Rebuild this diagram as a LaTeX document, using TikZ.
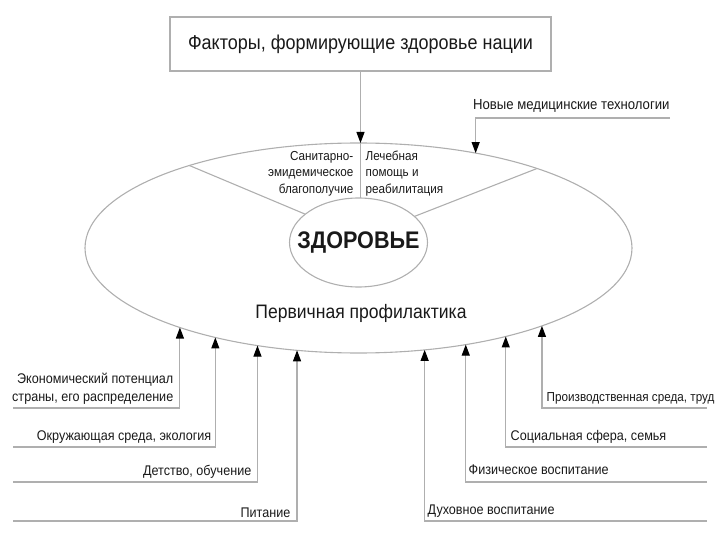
\documentclass[tikz,border=0pt]{standalone}
\usepackage{fontspec}
\setmainfont{Liberation Sans}[FakeStretch=0.9]
\usetikzlibrary{arrows.meta,shapes.geometric}
\definecolor{ln}{RGB}{175,175,175}
\definecolor{tx}{RGB}{25,25,25}
\tikzset{
  conn/.style={draw=ln, line width=1.1pt, -{Triangle[length=11pt,width=8pt,color=black]}},
  plain/.style={draw=ln, line width=1.1pt},
  small/.style={font=\fontsize{13}{16.5}\selectfont, inner sep=1.5pt, text=tx},
  lab/.style={font=\fontsize{14}{17.5}\selectfont, inner sep=1.5pt, text=tx},
  oval/.style={ellipse, draw=ln, line width=1.1pt, inner sep=0pt, outer sep=0pt},
}
\begin{document}
\begin{tikzpicture}[x=1pt,y=-1pt]
\useasboundingbox (0,0) rectangle (720,540);
% title
\node[draw=ln, line width=1.1pt, minimum width=381pt, minimum height=54pt, inner sep=0pt,
      text=tx, font=\fontsize{20}{24}\selectfont] (title) at (360.5,44) {Факторы, формирующие здоровье нации};
% ellipses
\node[oval, minimum width=547pt, minimum height=210pt] (outer) at (358.5,248) {};
\node[oval, minimum width=138pt, minimum height=89pt] (inner) at (358.5,242.5) {};
\node[text=tx, font=\bfseries\fontsize{24}{27}\selectfont] (zd) at (inner.center) {ЗДОРОВЬЕ};
% inner dividers
\draw[plain] (outer.154.85) -- (inner.152.6);
\draw[plain] (outer.24.9) -- (inner.25.4);
\draw[plain] (title.south |- outer.north) -- (title.south |- inner.north);
% top arrow
\draw[conn] (title.south) -- (title.south |- outer.north);
% labels inside
\node[small, align=right, anchor=east] (san) at (355,173.5) {Санитарно-\\эмидемическое\\благополучие};
\node[small, align=left, anchor=west] (lech) at (364,173.5) {Лечебная\\помощь и\\реабилитация};
\node[text=tx, font=\fontsize{19.5}{22}\selectfont] (perv) at (361,313) {Первичная профилактика};
% new technologies
\node[lab, font=\fontsize{14.6}{17}\selectfont, anchor=south west, inner sep=0pt] (nmt) at (473,113) {Новые медицинские технологии};
\coordinate (nmtE) at (670,118);
\draw[conn] (nmtE) -| (outer.39.5);
% bottom left
\coordinate (a1) at (13,408);
\draw[conn] (a1) -| (outer.204);
\node[lab, align=right, anchor=south east] (t1) at (175,406) {Экономический потенциал\\страны, его распределение};
\coordinate (a2) at (13,447);
\draw[conn] (a2) -| (outer.212.2);
\node[lab, anchor=south east] (t2) at (213,445) {Окружающая среда, экология};
\coordinate (a3) at (13,482);
\draw[conn] (a3) -| (outer.224.2);
\node[lab, anchor=south east] (t3) at (253,480) {Детство, обучение};
\coordinate (a4) at (13,521);
\draw[conn] (a4) -| (outer.239.0);
\node[lab, anchor=south east] (t4) at (292,519) {Питание};
% bottom right
\coordinate (b1) at (707,408);
\draw[conn] (b1) -| (outer.337.4);
\node[lab, font=\fontsize{13}{16}\selectfont, anchor=south west] (u1) at (545,406) {Производственная среда, труд};
\coordinate (b2) at (707,447);
\draw[conn] (b2) -| (outer.329.5);
\node[lab, anchor=south west] (u2) at (509,445) {Социальная сфера, семья};
\coordinate (b3) at (707,482);
\draw[conn] (b3) -| (outer.318.1);
\node[lab, anchor=south west] (u3) at (467,476) {Физическое воспитание};
\coordinate (b4) at (707,521);
\draw[conn] (b4) -| (outer.303.5);
\node[lab, anchor=south west] (u4) at (426,519) {Духовное воспитание};
\end{tikzpicture}
\end{document}
